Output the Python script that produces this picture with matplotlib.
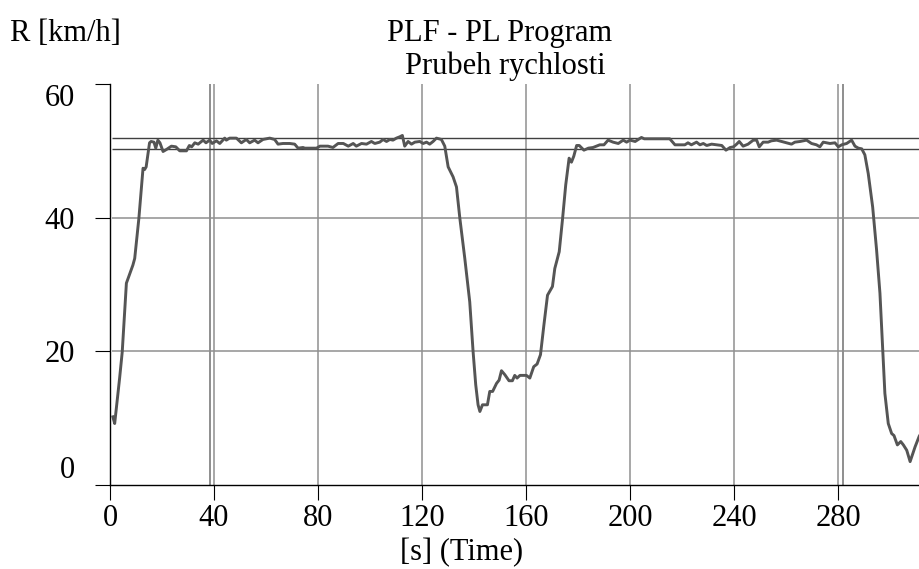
import matplotlib
matplotlib.use('Agg')
import matplotlib.pyplot as plt

plt.rcParams['font.family'] = ['Liberation Serif', 'DejaVu Serif']

# speed record (time in s, speed in km/h)
time_s = [1.1, 1.8, 3.7, 4.7, 6.3, 8.8, 9.5, 11.1, 12.7, 13.3, 13.9, 15.2, 15.8, 16.9, 17.6,
          18.4, 19.2, 20.4, 21.7, 23.6, 25.3, 26.8, 29.4, 30.5, 31.4, 32.6, 33.9, 35.8, 36.9,
          38.3, 39.3, 40.9, 42.2, 44.1, 44.7, 46.0, 48.6, 50.5, 52.4, 53.7, 55.6, 56.9, 58.8,
          61.4, 63.3, 64.6, 66.5, 69.1, 71.0, 72.3, 74.2, 74.9, 76.8, 79.4, 80.7, 83.8, 85.7,
          87.7, 89.7, 91.6, 93.5, 94.7, 96.7, 98.6, 100.5, 101.8, 103.7, 105.0, 106.3, 107.6,
          108.8, 110.1, 111.4, 112.4, 113.3, 114.6, 115.9, 117.2, 119.1, 120.4, 121.7, 122.9,
          124.2, 125.5, 127.4, 128.7, 130.0, 131.9, 133.2, 134.5, 136.4, 138.3, 139.6, 140.6,
          141.5, 142.2, 143.2, 145.1, 146.0, 147.1, 148.6, 149.6, 150.5, 151.8, 153.4, 154.7,
          155.6, 156.5, 157.6, 160.1, 161.4, 162.9, 164.2, 165.5, 166.8, 168.2, 170.1, 171.0,
          172.7, 174.0, 175.2, 176.5, 177.4, 178.3, 179.4, 180.4, 182.2, 183.9, 185.7, 188.3,
          189.9, 191.5, 193.4, 195.4, 197.3, 198.6, 199.9, 201.9, 204.3, 205.4, 215.2, 217.2,
          221.0, 222.2, 223.5, 225.5, 226.8, 228.1, 229.4, 231.3, 233.2, 235.2, 236.8, 238.4,
          239.7, 240.9, 241.9, 243.4, 245.3, 247.3, 248.6, 249.6, 251.1, 253.0, 254.3, 256.3,
          258.2, 260.1, 262.0, 263.3, 265.3, 267.8, 269.7, 271.6, 272.9, 274.2, 276.8, 278.7,
          280.0, 281.3, 283.2, 285.1, 286.4, 287.7, 289.0, 290.2, 291.5, 293.2, 294.7, 296.0,
          297.1, 297.9, 299.2, 300.5, 301.4, 302.7, 304.0, 305.0, 306.3, 307.6, 309.5, 311.1,
          311.9]
speed_kmh = [10.2, 9.2, 16.0, 19.9, 30.2, 32.9, 33.9, 39.9, 47.4, 47.2, 47.6, 51.2, 51.4, 51.3, 50.4,
             51.6, 51.2, 49.9, 50.2, 50.7, 50.6, 50.0, 50.0, 50.8, 50.6, 51.2, 51.0, 51.6, 51.2,
             51.6, 51.1, 51.5, 51.1, 51.9, 51.6, 51.9, 51.9, 51.2, 51.7, 51.2, 51.6, 51.2, 51.7,
             51.9, 51.7, 51.0, 51.1, 51.1, 51.0, 50.4, 50.5, 50.4, 50.4, 50.4, 50.7, 50.7, 50.5,
             51.1, 51.1, 50.7, 51.1, 50.7, 51.1, 51.0, 51.4, 51.1, 51.3, 51.7, 51.4, 51.7,
             51.6, 51.9, 52.1, 52.3, 50.7, 51.4, 51.0, 51.3, 51.4, 51.1, 51.3, 51.0,
             51.4, 51.9, 51.7, 50.7, 47.6, 46.1, 44.6, 39.9, 33.9, 27.4, 19.9, 15.0,
             12.0, 11.0, 12.0, 12.0, 14.0, 14.0, 15.2, 15.7, 17.1, 16.5, 15.6, 15.6,
             16.4, 16.0, 16.4, 16.4, 16.0, 17.7, 18.1, 19.5, 23.9, 28.4, 29.7, 32.4,
             34.9, 39.9, 44.9, 48.9, 48.3, 49.2, 50.8, 50.8, 50.1, 50.4, 50.5, 50.9,
             50.9, 51.6, 51.3, 51.1, 51.6, 51.3, 51.6, 51.4, 52.0, 51.8, 51.8, 50.9,
             50.9, 51.2, 50.9, 51.3, 50.9, 51.1, 50.8, 51.0, 50.9, 50.8, 50.1, 50.5,
             50.6, 51.0, 51.4, 50.7, 51.0, 51.6, 51.6, 50.6, 51.3, 51.3, 51.5, 51.6,
             51.4, 51.2, 51.0, 51.3, 51.4, 51.6, 51.1, 50.9, 50.6, 51.3, 51.1, 51.2,
             50.6, 50.9, 51.1, 51.6, 50.7, 50.4, 50.3, 49.4, 46.6, 41.6, 35.2, 28.7,
             20.2, 13.7, 9.2, 7.7, 7.4, 6.0, 6.5, 6.0, 5.2, 3.5, 5.7, 7.3,
             7.8]

x_ticks = [0, 40, 80, 120, 160, 200, 240, 280]
y_ticks = [0, 20, 40, 60]
band_limits = [50.3, 51.9]     # tolerance band lines
marker_times = [38.3, 281.9]   # extra vertical markers

W, H = 920, 569
fig = plt.figure(figsize=(W / 100, H / 100), dpi=100)
ax = fig.add_axes([110 / W, 1 - 485 / H, 1 - 110 / W, (485 - 84) / H])

ax.set_xlim(0, 311.4)
ax.set_ylim(0, 60)

grid_col = '#8f8f8f'
for xv in x_ticks[1:]:
    ax.axvline(xv, color=grid_col, lw=1.1, zorder=1)
for xv in marker_times:
    ax.axvline(xv, color='#707070', lw=1.1, zorder=1)
ax.hlines(y_ticks[1:3], 0.9, 400, color=grid_col, lw=1.1, zorder=1)
ax.hlines(band_limits, 0.9, 400, color='#404040', lw=1.0, zorder=2)

ax.plot(time_s, speed_kmh, color='#555555', lw=2.1, zorder=3)

for s in ['top', 'right']:
    ax.spines[s].set_visible(False)
ax.spines['left'].set_linewidth(1.0)
ax.spines['bottom'].set_linewidth(1.0)

ax.set_xticks(x_ticks)
ax.set_yticks(y_ticks)
ax.tick_params(axis='x', direction='out', length=11, width=0.8, pad=3, labelsize=22)
ax.tick_params(axis='y', direction='out', length=10.5, width=0.8, pad=15, labelsize=22)

yt = ax.yaxis.get_major_ticks()
yt[0].label1.set_verticalalignment('bottom')
yt[-1].label1.set_verticalalignment('top')

fig.text(10 / W, 1 - 41 / H, 'R [km/h]', fontsize=22, ha='left', va='baseline')
fig.text(500 / W, 1 - 41 / H, 'PLF - PL Program', fontsize=22, ha='center', va='baseline')
fig.text(505 / W, 1 - 74 / H, 'Prubeh rychlosti', fontsize=22, ha='center', va='baseline')
fig.text(462 / W, 1 - 560 / H, '[s] (Time)', fontsize=22, ha='center', va='baseline')

fig.savefig('out.png', dpi=100)
